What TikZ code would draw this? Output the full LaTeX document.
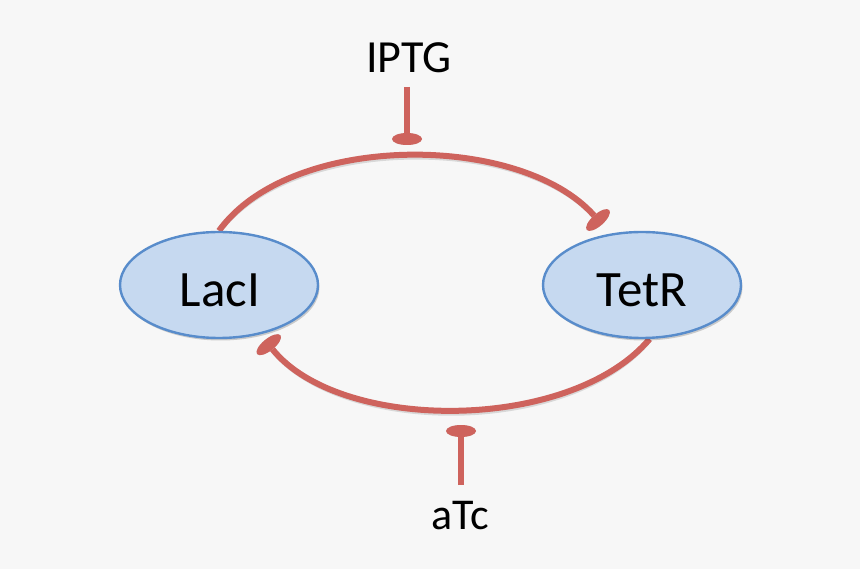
\documentclass[tikz,border=0pt]{standalone}
\usepackage{fontspec}
\setmainfont{Carlito}
\usetikzlibrary{arrows.meta,shapes.geometric,shadows}
\definecolor{bgc}{RGB}{247,247,247}
\definecolor{inhred}{RGB}{206,99,93}
\definecolor{nodefill}{RGB}{198,217,240}
\definecolor{nodeedge}{RGB}{88,140,203}
\pgfdeclarelayer{background}
\pgfdeclarelayer{backback}
\pgfsetlayers{backback,background,main}
\tikzset{
  protein/.style={ellipse, draw=nodeedge, line width=2.4pt, fill=nodefill,
    minimum width=198pt, minimum height=106pt, inner sep=0pt,
    drop shadow={shadow xshift=1.5pt, shadow yshift=-2.5pt, opacity=0.18, fill=black}},
  inhib/.style={draw=inhred, line width=6pt,
    -{Ellipse[length=12pt,width=30pt,line width=0pt]}},
  inhshadow/.style={draw=black, opacity=0.12, line width=6pt,
    -{Ellipse[length=12pt,width=30pt,line width=0pt]}},
  lbl/.style={font=\fontsize{51}{60}\selectfont, inner sep=0pt},
  smalllbl/.style={inner sep=0pt}
}
\begin{document}
\begin{tikzpicture}[x=1pt,y=-1pt]
\begin{pgfonlayer}{backback}
\fill[bgc] (0,0) rectangle (860,569);
\end{pgfonlayer}
\useasboundingbox (0,0) rectangle (860,569);
% proteins
\node[protein] (L) at (219,285) {};
\node[protein] (T) at (642,285) {};
\node[lbl] (Ltxt) at (220,290) {LacI};
\node[lbl] (Ttxt) at (642,290) {TetR};
% inducers
\node[smalllbl, font=\fontsize{46}{54}\selectfont] (iptg) at (409,58) {IPTG};
\node[smalllbl, font=\fontsize{44}{52}\selectfont] (atc) at (460,516) {aTc};
\coordinate (iptgtop) at (407,87);
\coordinate (iptgend) at (407,145);
\coordinate (atcbot) at (461,485);
\coordinate (atcend) at (461,425);
\coordinate (tetrbar) at (602,224.5);
\coordinate (lacibar) at (265,340);
\begin{pgfonlayer}{background}
% shadows
\begin{scope}[shift={(1.5,2.5)}]
\draw[inhshadow] (L.north) .. controls (290,132) and (520,132) .. (tetrbar);
\draw[inhshadow] (T.-82) .. controls (570,433) and (340,433) .. (lacibar);
\draw[inhshadow] (iptgtop) -- (iptgend);
\draw[inhshadow] (atcbot) -- (atcend);
\end{scope}
% connectors
\draw[inhib] (L.north) .. controls (290,132) and (520,132) .. (tetrbar);
\draw[inhib] (T.-82) .. controls (570,433) and (340,433) .. (lacibar);
\draw[inhib] (iptgtop) -- (iptgend);
\draw[inhib] (atcbot) -- (atcend);
\end{pgfonlayer}
\end{tikzpicture}
\end{document}
